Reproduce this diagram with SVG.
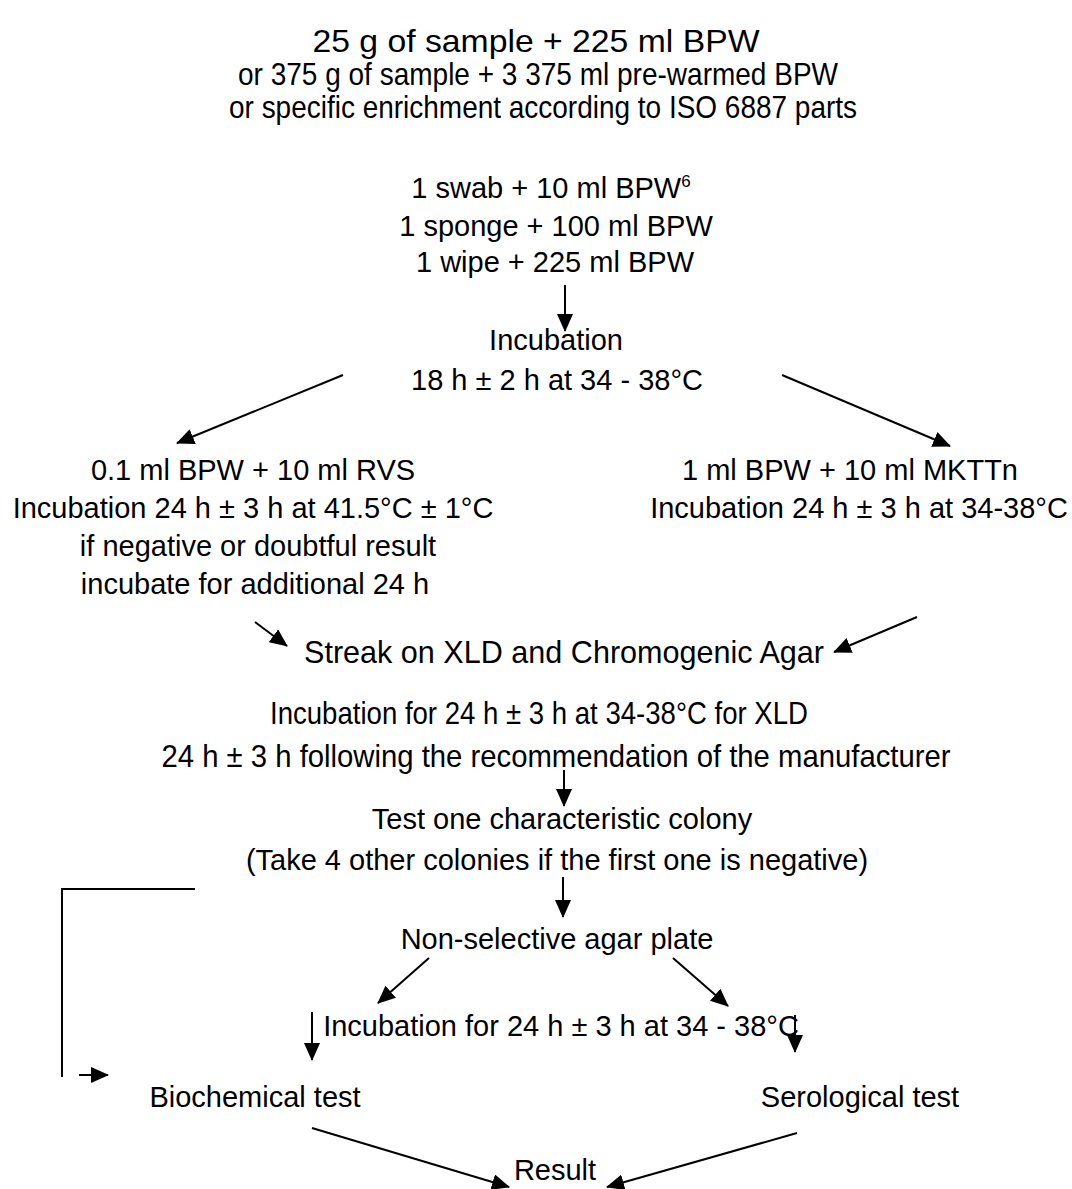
<svg xmlns="http://www.w3.org/2000/svg" width="1072" height="1189" viewBox="0 0 1072 1189">
<style>
text{font-family:"Liberation Sans",Arial,sans-serif;font-size:29px;fill:#000;text-anchor:middle}
.n{font-size:32px}
line,polyline{stroke:#000;stroke-width:2;fill:none}
</style>
<defs>
<marker id="ah" markerUnits="userSpaceOnUse" markerWidth="18" markerHeight="16" refX="17" refY="8" orient="auto">
<path d="M0,0 L18,8 L0,16 Z" fill="#000"/>
</marker>
</defs>
<rect width="1072" height="1189" fill="#fff"/>
<g id="n-sample">
<text class="n" x="536" y="52" textLength="447" lengthAdjust="spacingAndGlyphs">25 g of sample + 225 ml BPW</text>
<text class="n" x="538" y="85" textLength="600" lengthAdjust="spacingAndGlyphs">or 375 g of sample + 3 375 ml pre-warmed BPW</text>
<text class="n" x="543" y="118" textLength="628" lengthAdjust="spacingAndGlyphs">or specific enrichment according to ISO 6887 parts</text>
</g>
<g id="n-swab">
<text x="551" y="198">1 swab + 10 ml BPW<tspan font-size="17" dy="-11">6</tspan></text>
<text x="556" y="236">1 sponge + 100 ml BPW</text>
<text x="555" y="272">1 wipe + 225 ml BPW</text>
</g>
<g id="n-incubation">
<text x="556" y="350">Incubation</text>
<text x="557" y="390">18 h ± 2 h at 34 - 38°C</text>
</g>
<g id="n-rvs">
<text x="253" y="480">0.1 ml BPW + 10 ml RVS</text>
<text x="253" y="518">Incubation 24 h ± 3 h at 41.5°C ± 1°C</text>
<text x="258" y="556">if negative or doubtful result</text>
<text x="255" y="594">incubate for additional 24 h</text>
</g>
<g id="n-mkttn">
<text x="850" y="480">1 ml BPW + 10 ml MKTTn</text>
<text x="859" y="518">Incubation 24 h ± 3 h at 34-38°C</text>
</g>
<g id="n-streak">
<text class="n" x="564" y="663" textLength="520" lengthAdjust="spacingAndGlyphs">Streak on XLD and Chromogenic Agar</text>
</g>
<g id="n-xld">
<text class="n" x="539" y="724" textLength="538" lengthAdjust="spacingAndGlyphs">Incubation for 24 h ± 3 h at 34-38°C for XLD</text>
<text class="n" x="556" y="767" textLength="789" lengthAdjust="spacingAndGlyphs">24 h ± 3 h following the recommendation of the manufacturer</text>
</g>
<g id="n-test">
<text x="562" y="829">Test one characteristic colony</text>
<text x="557" y="870">(Take 4 other colonies if the first one is negative)</text>
</g>
<g id="n-nonselective">
<text x="557" y="949">Non-selective agar plate</text>
</g>
<g id="n-incubation2">
<text x="561" y="1036">Incubation for 24 h ± 3 h at 34 - 38°C</text>
</g>
<g id="n-biochemical">
<text x="255" y="1107">Biochemical test</text>
</g>
<g id="n-serological">
<text x="860" y="1107">Serological test</text>
</g>
<g id="n-result">
<text x="555" y="1180">Result</text>
</g>
<g id="connectors">
<line x1="565" y1="285" x2="565" y2="331" marker-end="url(#ah)"/>
<line x1="343" y1="375" x2="177" y2="443" marker-end="url(#ah)"/>
<line x1="782" y1="375" x2="950" y2="446" marker-end="url(#ah)"/>
<line x1="255" y1="622" x2="287" y2="646" marker-end="url(#ah)"/>
<line x1="917" y1="617" x2="834" y2="652" marker-end="url(#ah)"/>
<line x1="564" y1="770" x2="564" y2="806" marker-end="url(#ah)"/>
<line x1="563" y1="877" x2="563" y2="917" marker-end="url(#ah)"/>
<line x1="429" y1="958" x2="378" y2="1003" marker-end="url(#ah)"/>
<line x1="673" y1="958" x2="728" y2="1006" marker-end="url(#ah)"/>
<line x1="312" y1="1012" x2="312" y2="1060" marker-end="url(#ah)"/>
<line x1="795" y1="1015" x2="795" y2="1052" marker-end="url(#ah)"/>
<polyline points="195,889 62,889 62,1077"/>
<line x1="79" y1="1075" x2="108" y2="1075" marker-end="url(#ah)"/>
<line x1="312" y1="1128" x2="509" y2="1187" marker-end="url(#ah)"/>
<line x1="797" y1="1133" x2="607" y2="1187" marker-end="url(#ah)"/>
</g>
</svg>
